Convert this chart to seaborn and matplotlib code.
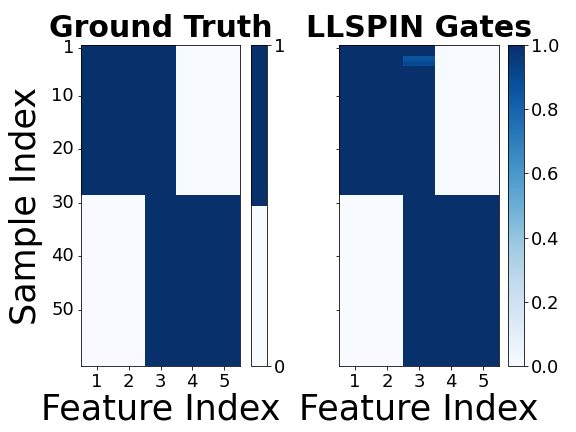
import numpy as np
import pandas as pd
import seaborn as sns
import matplotlib.pyplot as plt
from matplotlib.colors import ListedColormap

# Data
features = [1, 2, 3, 4, 5]
group_sizes = [28, 32]                 # samples in group A, group B
group_a_truth = [1, 1, 1, 0, 0]
group_b_truth = [0, 0, 1, 1, 1]
group_a_gates = [1.0, 1.0, 1.0, 0.0, 0.0]
group_b_gates = [0.0, 0.0, 1.0, 1.0, 1.0]
# a few samples where the learned gate of feature 3 is not fully open
gate_dips_rows = [2, 3]
gate_dips_vals = [0.86, 0.9]
ytick_labels = [1, 10, 20, 30, 40, 50]

# Build the matrices
truth = np.vstack([np.tile(group_a_truth, (group_sizes[0], 1)),
                   np.tile(group_b_truth, (group_sizes[1], 1))]).astype(float)
gates = np.vstack([np.tile(group_a_gates, (group_sizes[0], 1)),
                   np.tile(group_b_gates, (group_sizes[1], 1))])
for r, v in zip(gate_dips_rows, gate_dips_vals):
    gates[r, 2] = v

df_truth = pd.DataFrame(truth, columns=features)
df_gates = pd.DataFrame(gates, columns=features)

fig = plt.figure(figsize=(8, 6), dpi=72)
W, H = 576, 432

def box(x0, x1, y0, y1):
    return [x0 / W, 1 - y1 / H, (x1 - x0) / W, (y1 - y0) / H]

ax1 = fig.add_axes(box(81, 240, 45, 366))
cax1 = fig.add_axes(box(251, 267, 45, 366))
ax2 = fig.add_axes(box(339, 499, 45, 366))
cax2 = fig.add_axes(box(508, 524, 45, 366))

blues = plt.get_cmap("Blues")
two_tone = ListedColormap([blues(0.0), blues(1.0)])

sns.heatmap(df_truth, ax=ax1, cbar_ax=cax1, cmap=two_tone, vmin=0, vmax=1,
            cbar_kws={"ticks": [0, 1]})
sns.heatmap(df_gates, ax=ax2, cbar_ax=cax2, cmap="Blues", vmin=0, vmax=1,
            cbar_kws={"ticks": [0, 0.2, 0.4, 0.6, 0.8, 1.0]})
cax2.set_yticklabels(["0.0", "0.2", "0.4", "0.6", "0.8", "1.0"])

ypos = [t - 0.5 for t in [1, 10, 20, 30, 40, 50]]
for ax, title in [(ax1, "Ground Truth"), (ax2, "LLSPIN Gates")]:
    for s in ax.spines.values():
        s.set_visible(True)
        s.set_linewidth(0.8)
    ax.set_xticks([f - 0.5 for f in features])
    ax.set_xticklabels(features, rotation=0, fontsize=18)
    ax.set_yticks(ypos)
    ax.tick_params(length=3.5, width=0.8)
    ax.set_title(title, fontsize=30, fontweight="bold", pad=8)
    ax.set_xlabel("Feature Index", fontsize=35, labelpad=1)
    ax.collections[0].colorbar.outline.set_linewidth(0.8)

ax1.set_yticklabels(ytick_labels, rotation=0, fontsize=18)
ax2.set_yticklabels([])
ax1.set_ylabel("Sample Index", fontsize=35, labelpad=8)

for cax in (cax1, cax2):
    cax.tick_params(labelsize=18, length=3.5, width=0.8)

fig.savefig("out.png", dpi=72)
